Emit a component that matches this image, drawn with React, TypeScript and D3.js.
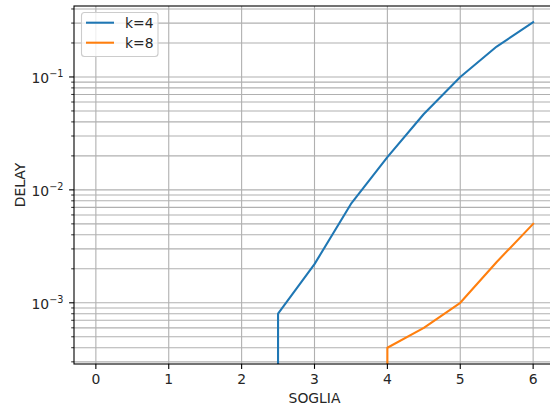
import { useEffect, useRef } from 'react';
import * as d3 from 'd3';

// SOGLIA values on the x axis
const soglia = [0, 0.5, 1, 1.5, 2, 2.5, 3, 3.5, 4, 4.5, 5, 5.5, 6];
// DELAY for each threshold (zeros fall off the log scale)
const delayK4 = [0, 0, 0, 0, 0, 0.0008, 0.0022, 0.0075, 0.0195, 0.047, 0.1, 0.186, 0.305];
const delayK8 = [0, 0, 0, 0, 0, 0, 0, 0, 0.0004, 0.0006, 0.001, 0.0023, 0.005];
const seriesNames = ['k=4', 'k=8'];
const seriesColors = ['#1f77b4', '#ff7f0e'];
const xTickValues = [0, 1, 2, 3, 4, 5, 6];

export default function App() {
  const svgRef = useRef<SVGSVGElement>(null);

  const width = 550,
    height = 410;
  const left = 74,
    right = 555,
    top = 6,
    bottom = 364;

  useEffect(() => {
    const svg = d3.select(svgRef.current);
    svg.selectAll('*').remove();

    const font = 'DejaVu Sans, sans-serif';
    const series = [delayK4, delayK8];

    // matplotlib-like autoscale: 5% margins (log space for y)
    const xmin = d3.min(soglia)!,
      xmax = d3.max(soglia)!;
    const xm = (xmax - xmin) * 0.05;
    const positives = series.flat().filter((v) => v > 0);
    const lmin = Math.log10(d3.min(positives)!),
      lmax = Math.log10(d3.max(positives)!);
    const lm = (lmax - lmin) * 0.05;

    const x = d3.scaleLinear().domain([xmin - xm, xmax + xm]).range([left, right]);
    const y = d3
      .scaleLog()
      .domain([Math.pow(10, lmin - lm), Math.pow(10, lmax + lm)])
      .range([bottom, top]);

    svg
      .append('defs')
      .append('clipPath')
      .attr('id', 'plot-clip')
      .append('rect')
      .attr('x', left)
      .attr('y', top)
      .attr('width', right - left)
      .attr('height', bottom - top);

    const [d0, d1] = y.domain();
    const allTicks = y.ticks().filter((t) => t >= d0 && t <= d1);
    const isMajor = (t: number) => Math.abs(Math.log10(t) - Math.round(Math.log10(t))) < 1e-9;

    // grid
    const grid = svg.append('g').attr('stroke', '#b0b0b0').attr('stroke-width', 1.1);
    allTicks.forEach((t) => {
      grid
        .append('line')
        .attr('x1', left)
        .attr('x2', right)
        .attr('y1', y(t))
        .attr('y2', y(t));
    });
    xTickValues.forEach((t) => {
      grid
        .append('line')
        .attr('x1', x(t))
        .attr('x2', x(t))
        .attr('y1', top)
        .attr('y2', bottom);
    });

    // lines
    const line = d3
      .line<number>()
      .x((d, i) => x(soglia[i]))
      .y((d) => (d > 0 ? y(d) : bottom + 100000));

    const plot = svg.append('g').attr('clip-path', 'url(#plot-clip)');
    series.forEach((s, i) => {
      plot
        .append('path')
        .attr('d', line(s))
        .attr('fill', 'none')
        .attr('stroke', seriesColors[i])
        .attr('stroke-width', 2.08)
        .attr('stroke-linejoin', 'round')
        .attr('stroke-linecap', 'square');
    });

    // spines
    const spines = svg.append('g').attr('stroke', 'black').attr('stroke-width', 1.1).attr('fill', 'none');
    spines.append('rect').attr('x', left).attr('y', top).attr('width', right - left).attr('height', bottom - top);

    // x ticks
    const xt = svg.append('g');
    xTickValues.forEach((t) => {
      xt.append('line')
        .attr('x1', x(t))
        .attr('x2', x(t))
        .attr('y1', bottom)
        .attr('y2', bottom + 4.9)
        .attr('stroke', 'black')
        .attr('stroke-width', 1.1);
      xt.append('text')
        .attr('x', x(t))
        .attr('y', 384)
        .attr('text-anchor', 'middle')
        .style('font-family', font)
        .style('font-size', '13.9px')
        .attr('fill', '#262626')
        .text(d3.format('d')(t));
    });

    // y ticks
    const yt = svg.append('g');
    allTicks.forEach((t) => {
      const major = isMajor(t);
      yt.append('line')
        .attr('x1', left)
        .attr('x2', left - (major ? 4.9 : 2.8))
        .attr('y1', y(t))
        .attr('y2', y(t))
        .attr('stroke', 'black')
        .attr('stroke-width', major ? 1.1 : 0.83);
      if (major) {
        const exp = Math.round(Math.log10(t));
        const label = yt
          .append('text')
          .attr('x', 63.5)
          .attr('y', y(t) + 6.3)
          .attr('text-anchor', 'end')
          .style('font-family', font)
          .style('font-size', '13.9px')
          .attr('fill', '#262626');
        label.append('tspan').text('10');
        label
          .append('tspan')
          .attr('dy', -6)
          .style('font-size', '9.7px')
          .text('\u2212' + Math.abs(exp));
      }
    });

    // axis titles
    svg
      .append('text')
      .attr('x', (left + right) / 2)
      .attr('y', 403)
      .attr('text-anchor', 'middle')
      .style('font-family', font)
      .style('font-size', '13.9px')
      .attr('fill', '#262626')
      .text('SOGLIA');
    svg
      .append('text')
      .attr('transform', `translate(25,${(top + bottom) / 2}) rotate(-90)`)
      .attr('text-anchor', 'middle')
      .style('font-family', font)
      .style('font-size', '13.9px')
      .attr('fill', '#262626')
      .text('DELAY');

    // legend
    const lg = svg.append('g');
    lg.append('rect')
      .attr('x', 81.5)
      .attr('y', 12.5)
      .attr('width', 76.5)
      .attr('height', 44)
      .attr('rx', 3)
      .attr('fill', 'white')
      .attr('fill-opacity', 0.8)
      .attr('stroke', '#cccccc')
      .attr('stroke-width', 1.1);
    seriesNames.forEach((name, i) => {
      const ly = 22.7 + i * 20;
      lg.append('line')
        .attr('x1', 86)
        .attr('x2', 114)
        .attr('y1', ly)
        .attr('y2', ly)
        .attr('stroke', seriesColors[i])
        .attr('stroke-width', 2.08);
      lg.append('text')
        .attr('x', 125)
        .attr('y', ly + 5)
        .style('font-family', font)
        .style('font-size', '13.9px')
        .attr('fill', '#262626')
        .text(name);
    });
  }, []);

  return (
    <svg
      ref={svgRef}
      width={width}
      height={height}
      viewBox={`0 0 ${width} ${height}`}
      style={{ position: 'absolute', left: 0, top: 0, background: 'white' }}
    ></svg>
  );
}
